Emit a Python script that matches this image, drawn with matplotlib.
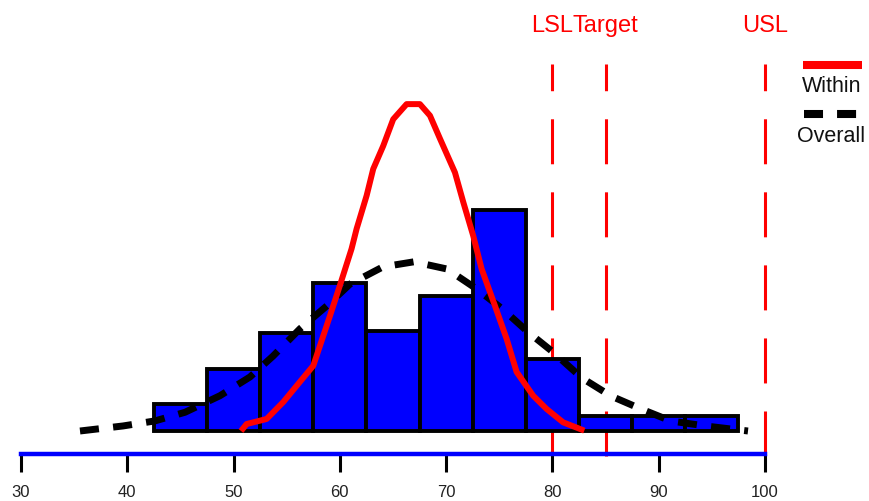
import matplotlib
matplotlib.use("Agg")
import matplotlib.pyplot as plt
from matplotlib.lines import Line2D
from matplotlib import font_manager

# ---------------- data ----------------
bin_edges = [42.5, 47.5, 52.5, 57.5, 62.5, 67.5, 72.5, 77.5, 82.5, 87.5, 92.5, 97.5]
counts = [3.75, 8.6, 13.6, 20.5, 13.9, 18.75, 30.7, 10.0, 2.1, 2.1, 2.1]

within_x = [50.7, 51.23, 53.11, 54.68, 55.94, 57.5, 58.13, 59.07, 60.0, 61.1, 61.58,
            62.52, 63.14, 64.08, 65.02, 66.28, 66.9, 67.53, 68.48, 69.42, 70.83,
            71.61, 72.55, 73.34, 74.59, 75.69, 76.63, 78.19, 79.45, 81.01, 83.0]
within_y = [0.0, 0.97, 1.67, 4.03, 6.29, 9.07, 11.85, 16.0, 20.2, 25.3, 28.1,
            32.7, 36.4, 39.6, 43.3, 45.4, 45.4, 45.4, 43.8, 40.6, 35.9,
            31.8, 27.1, 22.5, 17.4, 12.8, 8.2, 4.9, 3.06, 1.2, 0.05]

overall_x = [35.55, 39.6, 42.6, 45.43, 48.72, 51.54, 53.71, 56.25, 58.79, 60.95,
             64.06, 66.97, 70.08, 72.9, 75.34, 77.7, 80.05, 82.78, 85.5, 88.33,
             91.15, 94.44, 98.4]
overall_y = [0.0, 0.7, 1.4, 2.6, 4.9, 7.5, 10.4, 14.2, 17.4, 20.4,
             22.8, 23.5, 22.5, 19.7, 16.9, 13.75, 10.97, 7.36, 4.86, 3.06,
             1.39, 0.69, 0.0]

spec_names = ["LSL", "Target", "USL"]
spec_values = [80, 85, 100]
x_ticks = [30, 40, 50, 60, 70, 80, 90, 100]
legend_labels = ["Within", "Overall"]

# ---------------- style ----------------
names = {f.name for f in font_manager.fontManager.ttflist}
FONT = "Liberation Sans" if "Liberation Sans" in names else "DejaVu Sans"
plt.rcParams["font.family"] = [FONT, "DejaVu Sans"]
plt.rcParams["lines.scale_dashes"] = False

W, H, DPI = 869, 502, 100
fig = plt.figure(figsize=(W / DPI, H / DPI), dpi=DPI)
fig.patch.set_facecolor("white")

ax = fig.add_axes([21 / W, (H - 454.5) / H, 744 / W, 454.5 / H])
ax.set_xlim(30, 100)
ax.set_ylim(-3.125, 60)
ax.patch.set_alpha(0)

# spec limit lines (behind bars)
for v in spec_values:
    ax.plot([v, v], [-3.47, 51.0], color="red", lw=2.2,
            linestyle=(0, (32.4, 20.2)), dash_capstyle="butt",
            zorder=1, clip_on=False)

# histogram
lefts = bin_edges[:-1]
widths = [b - a for a, b in zip(bin_edges[:-1], bin_edges[1:])]
ax.bar(lefts, counts, width=widths, align="edge", color="#0000FF",
       edgecolor="black", linewidth=2.8, zorder=2)

# overall (dashed black)
ax.plot(overall_x, overall_y, color="black", lw=5.0,
        linestyle=(0, (13.7, 10.3)), dash_capstyle="butt", zorder=3)

# within (solid red)
ax.plot(within_x, within_y, color="red", lw=4.3, zorder=4,
        solid_capstyle="butt", solid_joinstyle="round")

# spec labels
for name, v in zip(spec_names, spec_values):
    ax.text(v, (432 - 32) / 7.2, name, color="red", fontsize=17,
            ha="center", va="baseline", clip_on=False)

# axes styling
for s in ["left", "top", "right"]:
    ax.spines[s].set_visible(False)
ax.spines["bottom"].set_color("#0000FF")
ax.spines["bottom"].set_linewidth(3.2)
ax.spines["bottom"].set_zorder(5)
ax.set_yticks([])
ax.set_xticks(x_ticks)
ax.set_xticklabels([str(t) for t in x_ticks])
ax.tick_params(axis="x", direction="out", length=13, width=2.2,
               color="black", pad=9, labelsize=12, labelcolor="#222222")

# manual legend
def fx(px):
    return px / W

def fy(py):
    return 1 - py / H

fig.add_artist(Line2D([fx(803), fx(862)], [fy(66), fy(66)],
                      transform=fig.transFigure, color="red", lw=5.8,
                      solid_capstyle="butt"))
fig.add_artist(Line2D([fx(804), fx(858)], [fy(115), fy(115)],
                      transform=fig.transFigure, color="black", lw=5.8,
                      linestyle=(0, (13.7, 10.1)), dash_capstyle="butt"))
fig.text(fx(832), fy(92), legend_labels[0], ha="center", va="baseline",
         fontsize=15.5, color="#111111")
fig.text(fx(831), fy(142), legend_labels[1], ha="center", va="baseline",
         fontsize=15.5, color="#111111")

fig.savefig("out.png", dpi=DPI, facecolor="white")
